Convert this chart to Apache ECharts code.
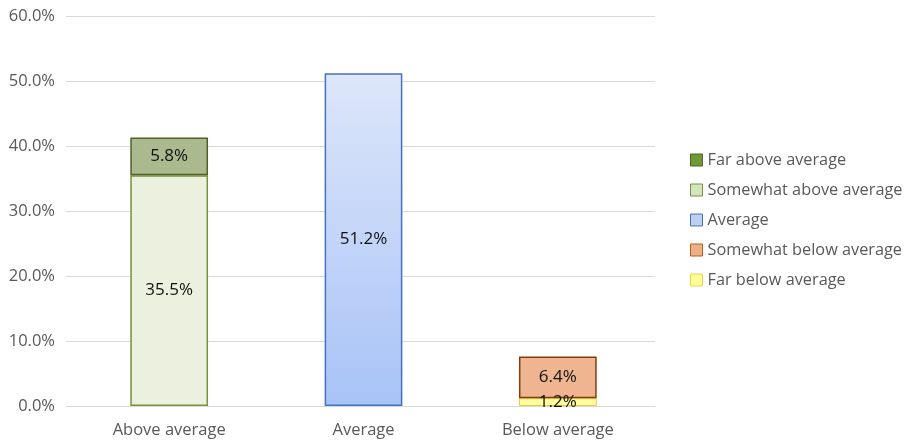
<!DOCTYPE html>
<html><head><meta charset="utf-8">
<script src="https://cdn.jsdelivr.net/npm/echarts@6/dist/echarts.min.js"></script>
<style>html,body{margin:0;padding:0;background:#fff}#c{width:908px;height:444px}</style>
</head><body><div id="c"></div>
<script>
const categories = ['Above average', 'Average', 'Below average'];
const seriesNames = ['Far above average', 'Somewhat above average', 'Average', 'Somewhat below average', 'Far below average'];
const farAbove = [5.8, null, null];
const somewhatAbove = [35.5, null, null];
const average = [null, 51.2, null];
const somewhatBelow = [null, null, 6.4];
const farBelow = [null, null, 1.2];
const yTicks = [0, 10, 20, 30, 40, 50, 60];

const FONT = '"Open Sans", "Noto Sans", sans-serif';
const lbl = {show: true, position: 'inside', color: '#111', fontSize: 17, fontFamily: FONT,
  formatter: p => p.value == null ? '' : p.value.toFixed(1) + '%'};

const chart = echarts.init(document.getElementById('c'));
chart.setOption({
  animation: false,
  grid: {left: 72, right: 253, top: 16, bottom: 38},
  legend: {
    orient: 'vertical', left: 685, top: 144, itemGap: 8, itemWidth: 12, itemHeight: 12, icon: 'rect',
    textStyle: {color: '#595959', fontSize: 16.3, fontFamily: FONT, lineHeight: 22},
    data: [
      {name: seriesNames[0], itemStyle: {color: '#6f9a3a', borderColor: '#4f6228', borderWidth: 1}},
      {name: seriesNames[1], itemStyle: {color: '#d3e4bf', borderColor: '#77933c', borderWidth: 1}},
      {name: seriesNames[2], itemStyle: {color: '#bdd0f2', borderColor: '#4472c4', borderWidth: 1}},
      {name: seriesNames[3], itemStyle: {color: '#eab08a', borderColor: '#c55a11', borderWidth: 1}},
      {name: seriesNames[4], itemStyle: {color: '#ffff99', borderColor: '#f2d14b', borderWidth: 1}}
    ]
  },
  xAxis: {
    type: 'category', data: categories,
    axisLine: {lineStyle: {color: '#d9d9d9'}},
    axisTick: {show: false},
    axisLabel: {color: '#595959', fontSize: 16.5, fontFamily: FONT, margin: 16}
  },
  yAxis: {
    type: 'value', min: yTicks[0], max: yTicks[yTicks.length - 1], interval: 10,
    axisLine: {show: false},
    axisTick: {show: true, length: 6, lineStyle: {color: '#d9d9d9'}},
    splitLine: {lineStyle: {color: '#d9d9d9'}},
    axisLabel: {color: '#595959', fontSize: 16.5, fontFamily: FONT, margin: 17,
      formatter: v => v.toFixed(1) + '%'}
  },
  series: [
    {name: seriesNames[1], type: 'bar', stack: 's', data: somewhatAbove, barWidth: '40%',
      itemStyle: {color: '#ebf1de', borderColor: '#77933c', borderWidth: 1.5}, label: lbl},
    {name: seriesNames[0], type: 'bar', stack: 's', data: farAbove, barWidth: '40%',
      itemStyle: {color: '#aab98e', borderColor: '#4f6228', borderWidth: 1.5}, label: lbl},
    {name: seriesNames[2], type: 'bar', stack: 's', data: average, barWidth: '40%',
      itemStyle: {color: new echarts.graphic.LinearGradient(0, 0, 0, 1, [
        {offset: 0, color: '#dde6fa'}, {offset: 1, color: '#a8c3f7'}]),
        borderColor: '#4472c4', borderWidth: 1.5}, label: lbl},
    {name: seriesNames[4], type: 'bar', stack: 's', data: farBelow, barWidth: '40%',
      itemStyle: {color: '#ffff9f', borderColor: '#e6c84a', borderWidth: 1}, label: lbl},
    {name: seriesNames[3], type: 'bar', stack: 's', data: somewhatBelow, barWidth: '40%',
      itemStyle: {color: '#eeb590', borderColor: '#843c0c', borderWidth: 1.5}, label: lbl}
  ]
});
</script></body></html>
